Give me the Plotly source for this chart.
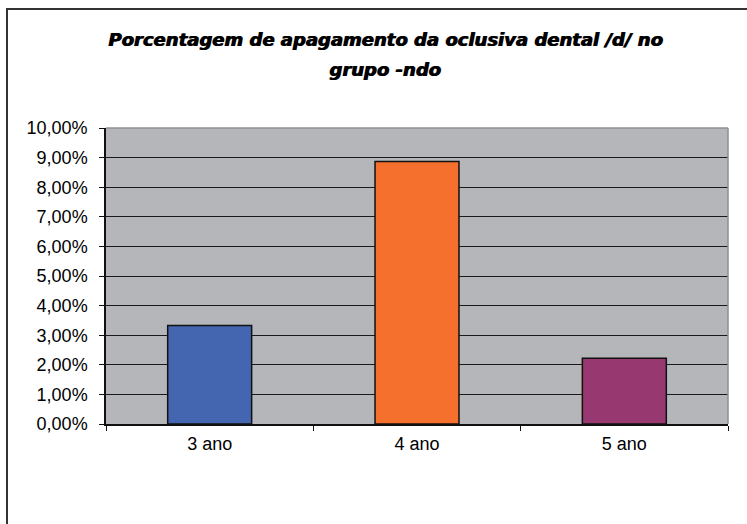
import plotly.graph_objects as go

categories = ["3 ano", "4 ano", "5 ano"]
values = [0.0333, 0.0887, 0.0222]
bar_colors = ["#4466B0", "#F4702C", "#973871"]
title_line1 = "Porcentagem de apagamento da oclusiva dental /d/ no"
title_line2 = "grupo -ndo"

fig = go.Figure()
fig.add_trace(go.Bar(
    x=categories, y=values,
    marker=dict(color=bar_colors, line=dict(color="#111111", width=1.5)),
    width=0.405,
))

W, H = 747, 524
L, R, T, B = 106, 19, 128, 100
pw, ph = W - L - R, H - T - B

def px_x(p):
    return (p - L) / pw

def px_y(p):
    return (H - B - p) / ph

title_font = dict(family="DejaVu Sans", size=18, color="black", weight="bold",
                  style="italic", shadow="1px 0px 0px black")

fig.update_layout(
    width=W, height=H,
    margin=dict(l=L, r=R, t=T, b=B),
    paper_bgcolor="white",
    plot_bgcolor="#B4B6B9",
    separators=",.",
    showlegend=False,
    font=dict(family="Liberation Sans, Arial, sans-serif", color="black"),
    xaxis=dict(
        showgrid=False,
        showline=True, linecolor="#111111", linewidth=1.5,
        ticks="outside", ticklen=5, tickcolor="#111111", tickwidth=1,
        tickson="boundaries",
        tickfont=dict(size=18, color="black"),
        ticklabelstandoff=3,
    ),
    yaxis=dict(
        range=[0, 0.10], dtick=0.01, tickformat=".2%",
        showgrid=True, gridcolor="#1a1a1a", gridwidth=1,
        zeroline=False,
        showline=True, linecolor="#111111", linewidth=1.5,
        ticks="outside", ticklen=5, tickcolor="#111111", tickwidth=1,
        tickfont=dict(size=18, color="black"),
        ticklabelstandoff=8,
    ),
    shapes=[
        dict(type="line", xref="paper", yref="paper", x0=0, x1=1, y0=1, y1=1,
             line=dict(color="#8E9093", width=1.5), layer="above"),
        dict(type="line", xref="paper", yref="paper", x0=1, x1=1, y0=0, y1=1,
             line=dict(color="#8E9093", width=1.5), layer="above"),
        dict(type="rect", xref="paper", yref="paper",
             x0=px_x(7), x1=px_x(770), y0=px_y(9), y1=px_y(560),
             line=dict(color="#333333", width=2), layer="below"),
    ],
    annotations=[
        dict(text=title_line1, xref="paper", yref="paper",
             x=px_x(385), y=px_y(40), xanchor="center", yanchor="middle",
             showarrow=False, font=title_font),
        dict(text=title_line2, xref="paper", yref="paper",
             x=px_x(385), y=px_y(69), xanchor="center", yanchor="middle",
             showarrow=False, font=title_font),
    ],
)

fig.write_html("out.html")
